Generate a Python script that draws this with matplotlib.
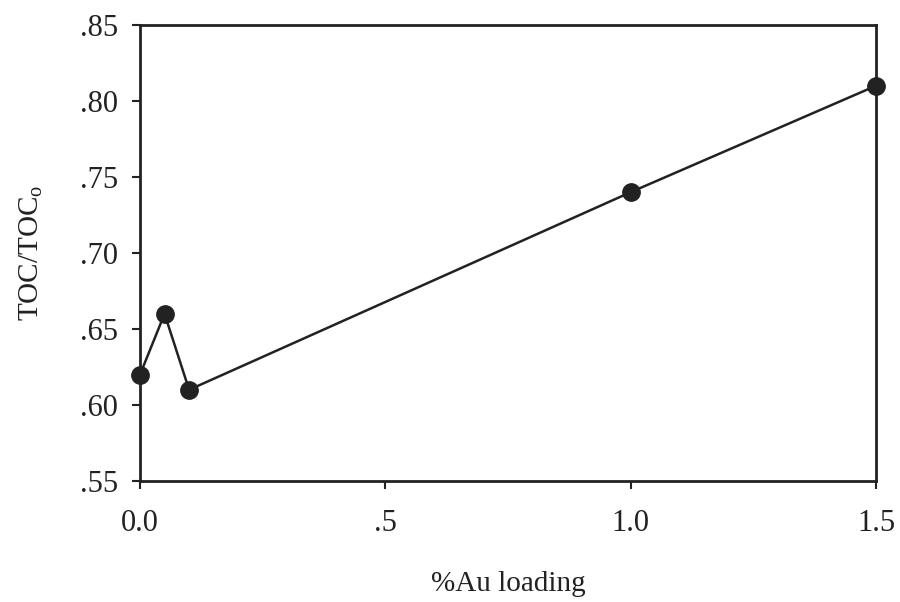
import matplotlib
matplotlib.use("Agg")
import matplotlib.pyplot as plt

au_loading = [0.0, 0.05, 0.1, 1.0, 1.5]
toc_ratio = [0.62, 0.66, 0.61, 0.74, 0.81]
xticks = [0.0, 0.5, 1.0, 1.5]
xticklabels = ["0.0", ".5", "1.0", "1.5"]
yticks = [0.55, 0.60, 0.65, 0.70, 0.75, 0.80, 0.85]
yticklabels = [".55", ".60", ".65", ".70", ".75", ".80", ".85"]

plt.rcParams['font.family'] = ['Liberation Serif', 'DejaVu Serif']
plt.rcParams['mathtext.fontset'] = 'custom'
plt.rcParams['mathtext.rm'] = 'Liberation Serif'

fig = plt.figure(figsize=(9, 6.02), dpi=100)
ax = fig.add_axes([0.1556, 0.201, 0.8177, 0.7575])
ax.plot(au_loading, toc_ratio, color='#222222', lw=1.8, marker='o',
        markersize=12.5, clip_on=False, zorder=3)
ax.set_xlim(0, 1.5)
ax.set_ylim(0.55, 0.85)
ax.set_xticks(xticks)
ax.set_xticklabels(xticklabels)
ax.set_yticks(yticks)
ax.set_yticklabels(yticklabels)
for s in ax.spines.values():
    s.set_linewidth(2.0)
    s.set_color('#222222')
ax.tick_params(direction='out', length=6, width=1.5, labelsize=22, colors='#222222', pad=10)
ax.tick_params(axis='x', pad=14)
ax.set_xlabel('%Au loading', fontsize=21, labelpad=24, color='#222222')
ax.set_ylabel(r'TOC/TOC$_\mathrm{o}$', fontsize=21, labelpad=25, color='#222222')
fig.savefig('out.png', dpi=100)
